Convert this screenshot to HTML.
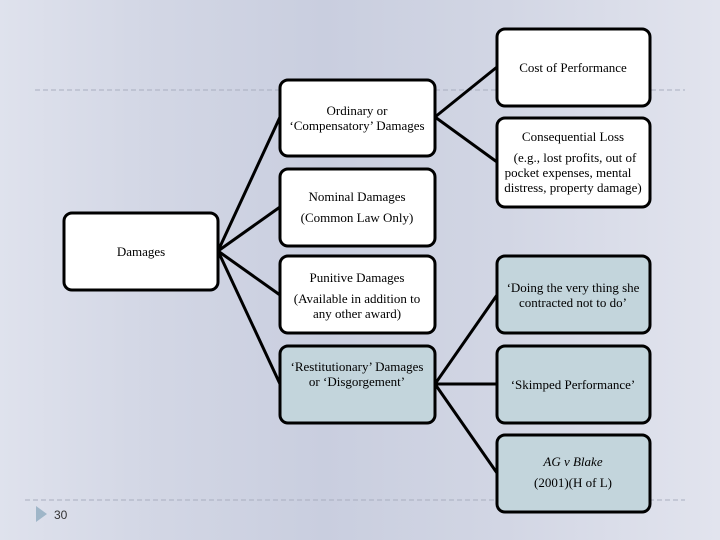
<!DOCTYPE html>
<html><head><meta charset="utf-8"><style>
html,body{margin:0;padding:0}
body{width:720px;height:540px;overflow:hidden;background:linear-gradient(90deg,#dfe2ed 0%,#d3d7e5 20%,#c9cedf 45%,#d2d6e4 70%,#e2e4ee 100%);}
svg{position:absolute;left:0;top:0}
text{font-family:"Liberation Serif",serif;font-size:13px;fill:#000}
</style></head><body>
<svg width="720" height="540" viewBox="0 0 720 540">
<line x1="35" y1="90" x2="685" y2="90" stroke="#a9aebf" stroke-width="1" stroke-dasharray="5,3"/>
<line x1="25" y1="500" x2="685" y2="500" stroke="#a9aebf" stroke-width="1" stroke-dasharray="5,3"/>
<polygon points="36,506 47,514 36,522" fill="#9fb6c8"/>
<text x="54" y="519" style="font-family:'Liberation Sans',sans-serif;font-size:12px;fill:#333">30</text>
<g stroke="#000" stroke-width="3" fill="none">
<line x1="218" y1="251" x2="280" y2="117"/>
<line x1="218" y1="251" x2="280" y2="207"/>
<line x1="218" y1="251" x2="280" y2="295"/>
<line x1="218" y1="251" x2="280" y2="384"/>
<line x1="435" y1="117" x2="497" y2="67"/>
<line x1="435" y1="117" x2="497" y2="162"/>
<line x1="435" y1="384" x2="497" y2="295"/>
<line x1="435" y1="384" x2="497" y2="384"/>
<line x1="435" y1="384" x2="497" y2="473"/>
</g>
<g stroke="#000" stroke-width="3">
<rect x="64" y="213" width="154" height="77" rx="8" fill="#fff"/>
<rect x="280" y="80" width="155" height="76" rx="8" fill="#fff"/>
<rect x="280" y="169" width="155" height="77" rx="8" fill="#fff"/>
<rect x="280" y="256" width="155" height="77" rx="8" fill="#fff"/>
<rect x="280" y="346" width="155" height="77" rx="8" fill="#c3d5dc"/>
<rect x="497" y="29" width="153" height="77" rx="8" fill="#fff"/>
<rect x="497" y="118" width="153" height="89" rx="8" fill="#fff"/>
<rect x="497" y="256" width="153" height="77" rx="8" fill="#c3d5dc"/>
<rect x="497" y="346" width="153" height="77" rx="8" fill="#c3d5dc"/>
<rect x="497" y="435" width="153" height="77" rx="8" fill="#c3d5dc"/>
</g>
<g text-anchor="middle">
<text x="141" y="256">Damages</text>
<text x="357" y="115">Ordinary or</text>
<text x="357" y="130">‘Compensatory’ Damages</text>
<text x="357" y="201">Nominal Damages</text>
<text x="357" y="222">(Common Law Only)</text>
<text x="357" y="282">Punitive Damages</text>
<text x="357" y="303">(Available in addition to</text>
<text x="357" y="318">any other award)</text>
<text x="357" y="371">‘Restitutionary’ Damages</text>
<text x="357" y="386">or ‘Disgorgement’</text>
<text x="573" y="72">Cost of Performance</text>
<text x="573" y="141">Consequential Loss</text>
<text x="575" y="162">(e.g., lost profits, out of</text>
<text x="568" y="177">pocket expenses, mental</text>
<text x="573" y="192">distress, property damage)</text>
<text x="573" y="292">‘Doing the very thing she</text>
<text x="573" y="307">contracted not to do’</text>
<text x="573" y="389">‘Skimped Performance’</text>
<text x="573" y="466" font-style="italic">AG v Blake</text>
<text x="573" y="487">(2001)(H of L)</text>
</g>
</svg>
</body></html>
